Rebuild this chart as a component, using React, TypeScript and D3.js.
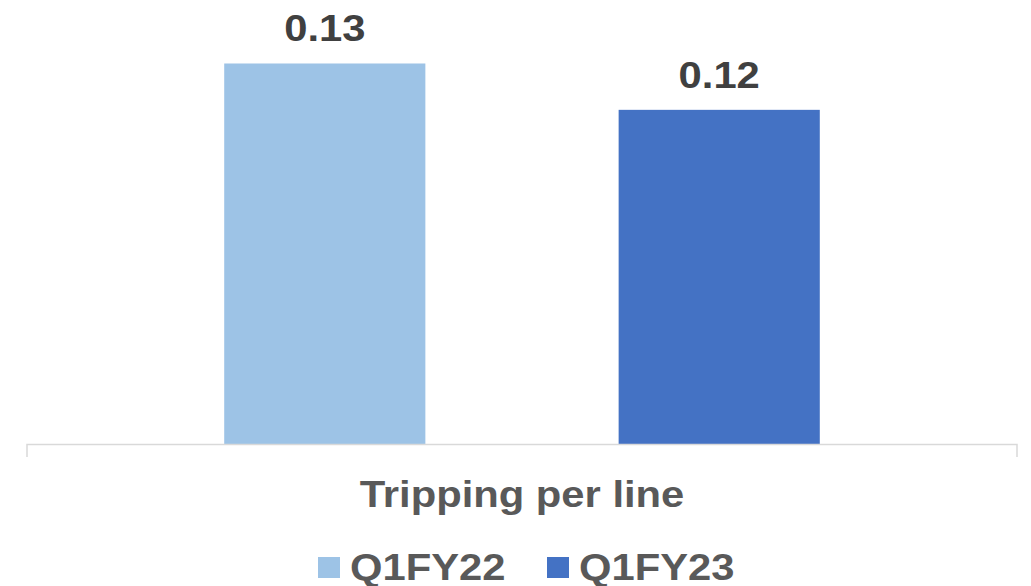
import React, { useEffect, useRef } from 'react';
import * as d3 from 'd3';

// data
const categories = ['Tripping per line'];
const seriesNames = ['Q1FY22', 'Q1FY23'];
const seriesValues = [0.134, 0.1177];
const seriesColors = ['#9DC3E6', '#4472C4'];

const App = () => {
    const svgRef = useRef(null);

    useEffect(() => {
        document.body.style.margin = '0';
        const svg = d3.select(svgRef.current);
        svg.selectAll('*').remove();

        const width = 1031;
        const height = 586;
        const left = 27;
        const right = 1017;
        const baseY = 444.5;
        const stretch = 1.16; // glyphs in the reference look a bit wide

        const x0 = d3.scaleBand().domain(categories).range([left, right]).padding(0);
        const x1 = d3.scaleBand()
            .domain(seriesNames)
            .range([0, x0.bandwidth()])
            .paddingInner(0.49)
            .paddingOuter(0.5);
        const y = d3.scaleLinear().domain([0, 0.15]).range([baseY, 18]);

        const g = svg.append('g');

        // bars
        categories.forEach(cat => {
            seriesNames.forEach((s, i) => {
                const bx = x0(cat) + x1(s);
                g.append('rect')
                    .attr('x', bx)
                    .attr('y', y(seriesValues[i]))
                    .attr('width', x1.bandwidth())
                    .attr('height', baseY - y(seriesValues[i]))
                    .attr('fill', seriesColors[i]);

                g.append('text')
                    .attr('transform', `translate(${bx + x1.bandwidth() / 2},${y(seriesValues[i]) - 22}) scale(${stretch},1)`)
                    .attr('text-anchor', 'middle')
                    .attr('font-family', '"Liberation Sans", Arial, sans-serif')
                    .attr('font-weight', 'bold')
                    .attr('font-size', 36)
                    .attr('fill', '#404040')
                    .text(d3.format('.2f')(seriesValues[i]));
            });

            // category label
            g.append('text')
                .attr('transform', `translate(${x0(cat) + x0.bandwidth() / 2},507) scale(${stretch},1)`)
                .attr('text-anchor', 'middle')
                .attr('font-family', '"Liberation Sans", Arial, sans-serif')
                .attr('font-weight', 'bold')
                .attr('font-size', 36)
                .attr('fill', '#595959')
                .text(cat);
        });

        // axis line with end ticks
        g.append('path')
            .attr('d', `M${left},457V${baseY}H${right}V457`)
            .attr('fill', 'none')
            .attr('stroke', '#D9D9D9')
            .attr('stroke-width', 1.5);

        // legend
        const legend = svg.append('g');
        const itemX = [318, 547];
        seriesNames.forEach((s, i) => {
            legend.append('rect')
                .attr('x', itemX[i])
                .attr('y', 557)
                .attr('width', 22)
                .attr('height', 21)
                .attr('fill', seriesColors[i]);
            legend.append('text')
                .attr('transform', `translate(${itemX[i] + 32},580) scale(${stretch},1)`)
                .attr('font-family', '"Liberation Sans", Arial, sans-serif')
                .attr('font-weight', 'bold')
                .attr('font-size', 36)
                .attr('fill', '#595959')
                .text(s);
        });

        svg.attr('width', width).attr('height', height);
    }, []);

    return <svg ref={svgRef} width={1031} height={586} style={{ display: 'block' }} />;
};

export default App;
